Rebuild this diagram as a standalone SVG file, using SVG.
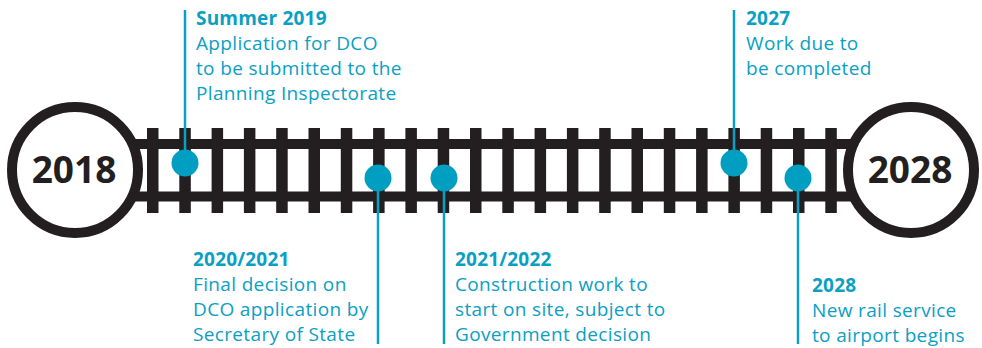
<svg xmlns="http://www.w3.org/2000/svg" width="982" height="348" viewBox="0 0 982 348">
<defs>
<style>
.rail{fill:#231f20}
.tie{fill:#231f20}
.ring{fill:#ffffff;stroke:#231f20;stroke-width:10}
.year{font-family:"Open Sans","Noto Sans",sans-serif;font-weight:bold;font-size:37px;fill:#231f20;text-anchor:middle}
.dot{fill:#009fc2}
.lead{stroke:#0aa0c4;stroke-width:2.5;fill:none}
.t{font-family:"Open Sans","Noto Sans",sans-serif;font-size:19px;letter-spacing:0.35px;fill:#0aa0c4}
.b{font-weight:bold;letter-spacing:0.2px}
</style>
<rect id="tieShape" x="0" y="128" width="11.5" height="85"/>
</defs>
<g id="track">
<rect class="rail" x="130" y="139" width="730" height="10"/>
<rect class="rail" x="130" y="191.5" width="730" height="10"/>
<use class="tie" href="#tieShape" x="147"/>
<use class="tie" href="#tieShape" x="179.3"/>
<use class="tie" href="#tieShape" x="211.6"/>
<use class="tie" href="#tieShape" x="243.9"/>
<use class="tie" href="#tieShape" x="276.2"/>
<use class="tie" href="#tieShape" x="308.5"/>
<use class="tie" href="#tieShape" x="340.8"/>
<use class="tie" href="#tieShape" x="373.1"/>
<use class="tie" href="#tieShape" x="405.4"/>
<use class="tie" href="#tieShape" x="437.7"/>
<use class="tie" href="#tieShape" x="470"/>
<use class="tie" href="#tieShape" x="502.3"/>
<use class="tie" href="#tieShape" x="534.6"/>
<use class="tie" href="#tieShape" x="566.9"/>
<use class="tie" href="#tieShape" x="599.2"/>
<use class="tie" href="#tieShape" x="631.5"/>
<use class="tie" href="#tieShape" x="663.8"/>
<use class="tie" href="#tieShape" x="696.1"/>
<use class="tie" href="#tieShape" x="728.4"/>
<use class="tie" href="#tieShape" x="760.7"/>
<use class="tie" href="#tieShape" x="793"/>
<use class="tie" href="#tieShape" x="825.3"/>
</g>
<g id="node-2018">
<circle class="ring" cx="75" cy="170" r="63"/>
<text class="year" x="74" y="183">2018</text>
</g>
<g id="node-2028">
<circle class="ring" cx="911" cy="170" r="63"/>
<text class="year" x="910" y="183">2028</text>
</g>
<g id="connectors">
<line class="lead" x1="185" y1="10" x2="185" y2="163"/>
<line class="lead" x1="378" y1="178" x2="378" y2="344"/>
<line class="lead" x1="444" y1="178" x2="444" y2="344"/>
<line class="lead" x1="734" y1="10" x2="734" y2="163"/>
<line class="lead" x1="798" y1="178" x2="798" y2="344"/>
</g>
<g id="m-summer2019">
<circle class="dot" cx="185" cy="163" r="13.5"/>
<text class="t"><tspan class="b" x="196" y="25">Summer 2019</tspan><tspan x="196" y="49.5">Application for DCO</tspan><tspan x="196" y="74.5">to be submitted to the</tspan><tspan x="196" y="99.5">Planning Inspectorate</tspan></text>
</g>
<g id="m-2020-2021">
<circle class="dot" cx="378" cy="178" r="13.5"/>
<text class="t"><tspan class="b" x="193" y="266">2020/2021</tspan><tspan x="193" y="291">Final decision on</tspan><tspan x="193" y="316">DCO application by</tspan><tspan x="193" y="341">Secretary of State</tspan></text>
</g>
<g id="m-2021-2022">
<circle class="dot" cx="444" cy="178" r="13.5"/>
<text class="t"><tspan class="b" x="455" y="266">2021/2022</tspan><tspan x="455" y="291">Construction work to</tspan><tspan x="455" y="316">start on site, subject to</tspan><tspan x="455" y="341">Government decision</tspan></text>
</g>
<g id="m-2027">
<circle class="dot" cx="734" cy="163" r="13.5"/>
<text class="t"><tspan class="b" x="746" y="25">2027</tspan><tspan x="746" y="49.5">Work due to</tspan><tspan x="746" y="74.5">be completed</tspan></text>
</g>
<g id="m-2028">
<circle class="dot" cx="798" cy="178" r="13.5"/>
<text class="t"><tspan class="b" x="812" y="292">2028</tspan><tspan x="812" y="317">New rail service</tspan><tspan x="812" y="342">to airport begins</tspan></text>
</g>
</svg>
